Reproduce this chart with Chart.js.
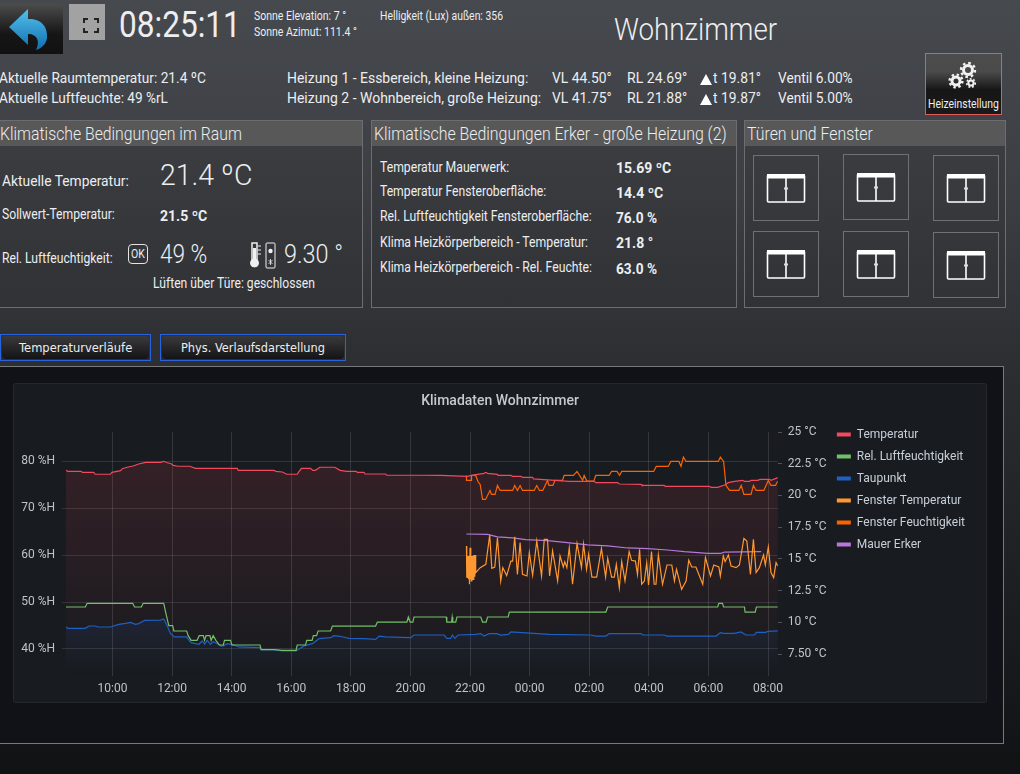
<!DOCTYPE html>
<html>
<head>
<meta charset="utf-8">
<title>Wohnzimmer</title>
<script src="https://cdn.jsdelivr.net/npm/chart.js@4"></script>
<style>
html, body { margin: 0; padding: 0; }
body { width: 1020px; height: 774px; overflow: hidden; position: relative; font-family: Roboto, sans-serif; color: #eceef0;
  background: linear-gradient(#46494e 0, #3c3e43 25%, #2c2e32 47%, #1e1f22 75%, #111214 100%); }
.box { position: absolute; box-sizing: border-box; }
.txt { position: absolute; white-space: nowrap; transform-origin: left center; line-height: 1; }
.panel { border: 1px solid #6b6d70; background: linear-gradient(#3c3e42, #303236); }
.head { position: absolute; left: 0; right: 0; top: 0; height: 25px; background: #585858; }
.btn { border: 1px solid #2a62dc; }
.btn div { position: absolute; inset: 1px; border-radius: 4px; background: linear-gradient(#3a3a3c, #141416); }
</style>
</head>
<body>
<div class="box" style="left:0;top:4px;width:63px;height:50px;background:linear-gradient(#4c4c4c,#161616 60%,#111)">
  <svg width="63" height="50"><defs><linearGradient id="a" x1="0" y1="0" x2="0" y2="1"><stop offset="0" stop-color="#55c0ee"/><stop offset="1" stop-color="#0f6fae"/></linearGradient></defs>
  <path d="M9 23 L28 5 L28 15 C42 14 48 24 47 34 C46 40 42 44 36 46 C40 38 38 30 28 30 L28 41 Z" fill="url(#a)"/></svg>
</div>
<div class="box" style="left:69px;top:4px;width:36px;height:36px;background:#a2a2a2">
  <svg width="36" height="36" fill="none" stroke="#222" stroke-width="2"><path d="M19 15h-4v4M25 15h4v4M19 28h-4v-4M25 28h4v-4"/></svg>
</div>
<div class="box" style="left:925px;top:53px;width:77px;height:62px;border:1px solid #e05a5a;background:linear-gradient(#4c4c4c,#4a4a4a 30%,#161616 60%,#1a1a1a)">
  <svg width="75" height="40" fill="none" stroke="#f2f2f2">
    <circle cx="42" cy="16" r="4.5" stroke-width="3"/><circle cx="42" cy="16" r="7" stroke-width="2.4" stroke-dasharray="2.6 2.9"/>
    <circle cx="30" cy="27" r="4" stroke-width="3"/><circle cx="30" cy="27" r="6.4" stroke-width="2.4" stroke-dasharray="2.4 2.6"/>
    <circle cx="45" cy="29" r="2.6" stroke-width="2"/><circle cx="45" cy="29" r="4.2" stroke-width="1.8" stroke-dasharray="1.8 1.8"/>
  </svg>
</div>
<svg class="box" style="left:699px;top:70px" width="15" height="36" fill="#fff"><path d="M1 15L7 4L13 15zM1 35L7 24L13 35z"/></svg>

<div class="box panel" style="left:-1px;top:120px;width:364px;height:188px"><div class="head"></div></div>
<div class="box panel" style="left:371px;top:120px;width:366px;height:188px"><div class="head"></div></div>
<div class="box panel" style="left:744px;top:120px;width:262px;height:188px"><div class="head"></div></div>

<div class="box" style="left:128px;top:244px;width:20px;height:20px;border:1px solid #e4e4e4;border-radius:4px"></div>
<svg class="box" style="left:250px;top:242px" width="26" height="27" fill="none" stroke="#f0f0f0">
  <path d="M2 1h5v17h-5z" stroke-width="1.5"/><circle cx="4.5" cy="21" r="4" fill="#f0f0f0"/><path d="M4.5 6v12" stroke-width="3"/><path d="M8 4h3M8 8h3M8 12h3" stroke-width="1"/>
  <rect x="16" y="1" width="9" height="25" rx="1" stroke-width="1"/><circle cx="20.5" cy="9" r="2.2" fill="#f0f0f0" stroke="none"/><path d="M18.5 18l4 4M22.5 18l-4 4M20.5 17v6" stroke-width=".8"/>
</svg>

<div class="box btn" style="left:0;top:334px;width:151px;height:27px"><div></div></div>
<div class="box btn" style="left:160px;top:334px;width:186px;height:27px"><div></div></div>

<div class="box" style="left:-1px;top:366px;width:1005px;height:378px;border:1px solid #77797b;background:#111217"></div>
<div class="box" style="left:13px;top:383px;width:974px;height:320px;border:1px solid #24272c;border-radius:3px;background:#181b1f"></div>
<canvas id="chart" width="972" height="318" style="position:absolute;left:14px;top:384px"></canvas>

<script>
// values; x is hours since midnight of the first day (24 = 00:00, 32 = 08:00)
const seriesNames = ['Temperatur', 'Rel. Luftfeuchtigkeit', 'Taupunkt', 'Fenster Temperatur', 'Fenster Feuchtigkeit', 'Mauer Erker'];
const seriesColors = ['#f2495c', '#73bf69', '#1f60c4', '#ff9830', '#fa6400', '#b877d9'];

const tempHours = [8.44,8.50,8.95,8.99,9.37,9.42,9.93,9.98,10.27,10.33,10.49,10.69,10.88,11.11,11.61,11.72,11.84,11.97,12.04,12.19,12.60,12.78,14.19,14.22,15.42,15.48,15.70,15.85,16.20,16.24,16.34,16.65,16.72,16.81,16.96,17.46,17.64,17.86,18.17,18.22,18.44,18.48,19.17,19.20,20.35,21.02,21.91,22.06,22.25,22.47,22.53,22.59,22.92,22.94,23.37,23.43,23.71,23.76,24.10,24.13,24.60,25.33,26.17,26.22,26.95,27.01,27.74,27.77,28.52,28.55,30.03,30.09,30.31,30.54,30.67,30.87,31.15,31.21,31.38,31.43,31.65,31.74,32.05,32.10,32.33];
const tempValues = [21.98,21.90,21.90,21.82,21.82,21.67,21.67,21.82,21.95,22.11,22.22,22.32,22.48,22.61,22.61,22.69,22.58,22.50,22.37,22.30,22.30,22.14,22.14,21.98,21.98,21.90,21.85,21.67,21.67,21.82,22.14,22.14,21.98,21.98,22.22,22.22,21.98,21.90,21.90,21.82,21.82,21.69,21.69,21.59,21.59,21.58,21.51,21.58,21.66,21.74,21.82,21.74,21.66,21.58,21.58,21.51,21.51,21.43,21.43,21.30,21.22,21.11,21.11,21.01,21.01,20.90,20.88,20.80,20.80,20.72,20.72,20.64,20.64,20.82,21.01,21.11,21.19,21.11,21.11,21.19,21.19,21.27,21.27,21.19,21.40];

const humHours = [8.44,9.09,9.15,10.68,10.74,10.97,11.03,11.72,11.80,11.89,12.02,12.06,12.49,12.54,12.64,12.84,12.91,13.05,13.09,13.14,13.27,13.31,13.38,13.47,13.59,13.72,13.76,13.96,14.01,14.95,14.99,15.42,15.70,16.16,16.20,16.48,16.52,16.70,16.74,16.85,16.90,17.32,17.38,18.83,18.89,19.88,19.93,19.99,20.08,20.12,20.35,21.20,21.22,21.38,21.40,21.42,21.52,21.56,22.36,22.42,22.54,22.59,23.28,23.32,26.56,26.62,30.31,30.35,30.47,30.51,31.21,31.23,31.57,31.61,32.33];
const humValues = [48.94,48.94,49.72,49.72,48.94,48.94,49.72,49.72,47.38,44.96,44.96,43.83,43.83,42.84,41.84,41.84,42.84,42.84,41.84,42.84,42.84,41.84,42.84,41.84,40.85,40.85,41.84,41.84,40.85,40.85,39.86,39.86,39.72,39.72,40.85,40.85,41.84,41.84,42.84,42.84,43.83,43.83,44.89,44.89,45.74,45.74,46.81,45.74,45.74,46.81,46.81,46.81,45.74,45.74,46.81,45.74,45.74,46.81,46.81,45.74,45.74,46.81,46.81,47.87,47.87,48.94,48.94,49.72,49.72,48.94,48.94,47.87,47.87,48.94,48.94];

const dewHours = [8.44,8.50,9.09,9.21,9.43,9.51,9.93,10.21,10.44,10.61,10.77,10.88,11.08,11.61,11.72,11.84,11.95,12.08,12.48,12.64,12.90,13.01,13.09,13.18,13.29,13.38,13.52,13.63,13.72,13.85,14.08,14.24,14.95,14.99,15.42,15.70,16.16,16.43,16.71,16.93,17.32,17.43,17.64,17.94,18.44,18.83,18.95,19.17,20.01,20.12,20.35,21.13,21.22,21.35,21.41,21.49,21.60,22.19,22.36,22.47,22.64,22.90,23.03,23.28,23.37,24.15,24.66,26.06,26.22,26.56,26.67,27.74,27.79,28.52,28.61,30.26,30.40,30.51,30.87,31.09,31.26,31.54,31.61,31.93,31.99,32.33];
const dewValues = [9.63,9.53,9.53,9.71,9.71,9.63,9.63,9.84,9.92,10.00,9.84,9.90,10.16,10.18,10.26,9.71,9.11,8.85,8.85,8.40,8.27,8.53,8.27,8.58,8.27,8.48,8.32,8.14,8.14,8.32,8.21,8.06,8.00,7.85,7.85,7.74,7.74,8.14,8.32,8.71,8.79,8.95,8.90,8.74,8.71,8.66,8.92,8.85,8.79,9.00,9.00,9.00,8.74,8.74,9.00,8.74,9.00,9.05,9.11,8.92,9.11,9.11,9.00,9.05,9.24,9.13,9.05,9.00,8.92,8.92,9.11,9.11,9.00,9.00,8.92,8.92,9.19,9.13,9.13,9.24,9.00,9.00,9.21,9.21,9.29,9.32];

const winTempHours = [21.88,21.89,21.90,21.92,21.94,21.95,21.97,21.98,22.00,22.02,22.03,22.04,22.06,22.07,22.09,22.10,22.12,22.13,22.14,22.16,22.17,22.19,22.34,22.53,22.66,22.73,22.83,22.92,23.03,23.10,23.23,23.37,23.43,23.50,23.59,23.68,23.76,23.91,23.99,24.10,24.24,24.40,24.49,24.60,24.67,24.77,24.94,25.02,25.13,25.18,25.25,25.33,25.44,25.59,25.74,25.81,25.91,25.98,26.09,26.25,26.41,26.55,26.62,26.75,26.84,26.91,27.01,27.09,27.20,27.34,27.42,27.55,27.62,27.69,27.76,27.85,27.93,27.99,28.09,28.18,28.24,28.32,28.46,28.61,28.77,28.86,28.93,29.10,29.25,29.34,29.44,29.58,29.81,29.90,30.07,30.18,30.35,30.40,30.50,30.56,30.67,30.76,30.93,31.04,31.19,31.29,31.41,31.51,31.60,31.71,31.85,31.91,32.01,32.10,32.19,32.27,32.33];
const winTempValues = [16.02,13.52,15.23,13.50,15.23,13.40,15.25,13.00,15.88,13.40,15.30,13.26,15.23,13.45,15.25,13.39,15.31,13.40,15.30,13.60,15.30,13.92,14.31,14.57,16.88,14.26,14.36,16.67,13.26,14.31,13.68,14.83,14.83,16.75,13.78,16.28,13.78,13.65,15.49,13.71,16.41,13.65,16.54,16.54,13.65,15.62,13.26,15.23,14.36,14.78,14.31,15.88,13.00,16.20,14.31,16.15,14.18,15.36,13.57,13.57,15.83,13.57,15.05,13.57,13.57,14.57,12.73,14.78,13.26,15.57,14.89,14.83,13.78,15.75,13.00,13.26,14.70,12.94,15.57,13.00,13.00,15.31,13.00,14.52,14.52,13.26,14.18,12.60,13.26,14.89,14.36,14.36,13.00,15.10,13.65,14.52,14.36,13.65,15.23,14.78,15.31,14.44,14.31,14.52,16.62,16.41,13.78,16.54,13.92,14.31,15.31,14.52,15.94,13.92,13.52,14.70,14.44];

const winHumHours = [21.88,21.88,22.05,22.05,22.19,22.27,22.34,22.42,22.52,22.67,22.72,22.84,22.92,23.01,23.43,23.50,23.59,23.68,23.76,24.15,24.24,24.33,24.44,24.60,24.65,24.78,24.85,25.10,25.16,25.47,25.59,25.78,25.83,25.92,26.15,26.22,26.67,26.75,26.93,27.02,27.09,28.16,28.25,28.65,28.74,29.01,29.08,29.16,29.25,30.33,30.40,30.51,30.59,30.71,31.02,31.10,31.19,31.43,31.51,31.60,31.86,32.01,32.10,32.25,32.33];
const winHumValues = [76.95,75.89,75.89,76.95,76.95,75.60,75.03,71.84,71.84,73.76,72.91,72.91,74.82,73.76,73.76,74.82,73.76,74.82,73.76,73.76,74.82,73.76,73.76,75.89,74.82,74.82,75.89,75.89,76.95,76.95,77.80,75.89,76.95,75.74,75.74,76.95,76.95,77.80,77.80,76.95,77.80,77.80,78.86,78.86,79.93,79.93,78.86,80.85,79.93,79.93,80.85,79.93,74.82,73.76,73.76,74.82,72.91,72.91,74.82,73.76,73.76,75.89,74.82,74.82,75.74];

const wallHours = [21.88,22.59,22.92,23.43,23.87,24.60,25.27,25.95,26.62,27.29,27.96,28.63,29.19,29.98,30.42,30.54,31.77];
const wallValues = [16.96,16.93,16.73,16.65,16.52,16.44,16.28,16.10,16.02,15.86,15.81,15.70,15.57,15.44,15.44,15.54,15.57];

const hourTicks = [10, 12, 14, 16, 18, 20, 22, 24, 26, 28, 30, 32];
const hourLabels = ['10:00', '12:00', '14:00', '16:00', '18:00', '20:00', '22:00', '00:00', '02:00', '04:00', '06:00', '08:00'];
const humTicks = [40, 50, 60, 70, 80];
const humLabels = ['40 %H', '50 %H', '60 %H', '70 %H', '80 %H'];
const tempTicks = [7.5, 10, 12.5, 15, 17.5, 20, 22.5, 25];
const tempLabels = ['7.50 °C', '10 °C', '12.5 °C', '15 °C', '17.5 °C', '20 °C', '22.5 °C', '25 °C'];

// text of the page around the chart: [x, y centre, text, size, width in px, weight]
const pageTexts = [
  [119, 25, '08:25:11', 36, 122, 400],
  [254, 16, 'Sonne Elevation: 7 °', 12, 92, 400],
  [254, 32, 'Sonne Azimut: 111.4 °', 12, 103, 400],
  [380, 16, 'Helligkeit (Lux) außen: 356', 12, 123, 400],
  [614, 29, 'Wohnzimmer', 32, 163, 300],
  [-1, 78, 'Aktuelle Raumtemperatur: 21.4 ºC', 15, 207, 400],
  [-1, 98, 'Aktuelle Luftfeuchte: 49 %rL', 15, 169, 400],
  [287, 78, 'Heizung 1 - Essbereich, kleine Heizung:', 15, 241, 400],
  [287, 98, 'Heizung 2 - Wohnbereich, große Heizung:', 15, 254, 400],
  [552, 78, 'VL 44.50°', 15, 60, 400],
  [552, 98, 'VL 41.75°', 15, 60, 400],
  [627, 78, 'RL 24.69°', 15, 60, 400],
  [627, 98, 'RL 21.88°', 15, 60, 400],
  [713, 78, 't 19.81°', 15, 48, 400],
  [713, 98, 't 19.87°', 15, 48, 400],
  [778, 78, 'Ventil 6.00%', 15, 75, 400],
  [778, 98, 'Ventil 5.00%', 15, 75, 400],
  [928, 104, 'Heizeinstellung', 12, 71, 400],
  [0, 134, 'Klimatische Bedingungen im Raum', 18, 242, 300],
  [374, 134, 'Klimatische Bedingungen Erker - große Heizung (2)', 18, 353, 300],
  [747, 134, 'Türen und Fenster', 18, 126, 300],
  [2, 181, 'Aktuelle Temperatur:', 15, 127, 400],
  [160, 175, '21.4 ºC', 30, 92, 300],
  [2, 214, 'Sollwert-Temperatur:', 14, 113, 400],
  [160, 216, '21.5 ºC', 14, 47, 700],
  [2, 258, 'Rel. Luftfeuchtigkeit:', 14, 111, 400],
  [131, 254, 'OK', 12, 14, 400],
  [160, 254, '49 %', 25, 47, 300],
  [284, 254, '9.30 °', 25, 59, 300],
  [153, 283, 'Lüften über Türe: geschlossen', 14, 162, 400],
  [380, 167, 'Temperatur Mauerwerk:', 14, 129, 400],
  [380, 191, 'Temperatur Fensteroberfläche:', 14, 166, 400],
  [380, 216, 'Rel. Luftfeuchtigkeit Fensteroberfläche:', 14, 212, 400],
  [380, 242, 'Klima Heizkörperbereich - Temperatur:', 14, 208, 400],
  [380, 267, 'Klima Heizkörperbereich - Rel. Feuchte:', 14, 212, 400],
  [616, 168, '15.69 ºC', 14, 55, 700],
  [616, 193, '14.4 ºC', 14, 47, 700],
  [616, 218, '76.0 %', 14, 41, 700],
  [616, 243, '21.8 °', 14, 37, 700],
  [616, 269, '63.0 %', 14, 41, 700]
];
const buttonTexts = [[19, 348, 'Temperaturverläufe', 113], [181, 348, 'Phys. Verlaufsdarstellung', 144]];
const windowBoxes = [[753, 155], [843, 154], [933, 155], [753, 231], [843, 231], [933, 232]];

function addText(x, y, text, size, width, weight, family) {
    const el = document.createElement('span');
    el.className = 'txt';
    el.textContent = text;
    el.style.cssText = `left:${x}px;top:${y - size / 2}px;font-size:${size}px;font-weight:${weight};` + (family ? `font-family:${family};` : '');
    document.body.appendChild(el);
    el.style.transform = `scaleX(${width / el.offsetWidth})`;
}
pageTexts.forEach(t => addText(...t));
buttonTexts.forEach(t => addText(t[0], t[1], t[2], 12, t[3], 400, '"DejaVu Sans"'));

// the window icons of "Türen und Fenster"
windowBoxes.forEach(([x, y]) => {
    const el = document.createElement('div');
    el.className = 'box';
    el.style.cssText = `left:${x}px;top:${y}px;width:66px;height:66px;border:1px solid #6e7073`;
    el.innerHTML = '<svg width="64" height="64" fill="none" stroke="#fff" style="position:absolute;left:0;top:0">' +
        '<rect x="13.5" y="19" width="37" height="27" rx="1" stroke-width="1.6"/><rect x="13" y="18" width="38" height="4.5" fill="#fff" stroke="none"/>' +
        '<path d="M32 22v24" stroke-width="1.6"/><path d="M30 32.5h4" stroke-width="2" stroke="#ddd"/></svg>';
    document.body.appendChild(el);
});

function toPoints(hours, values) {
    return hours.map((h, i) => ({x: h, y: values[i]}));
}

function fadeFill(rgb, top) {
    return ctx => {
        const area = ctx.chart.chartArea;
        if (!area) return 'transparent';
        const g = ctx.chart.ctx.createLinearGradient(0, area.top, 0, area.bottom);
        g.addColorStop(0, `rgba(${rgb},${top})`);
        g.addColorStop(1, `rgba(${rgb},0)`);
        return g;
    };
}

function line(i, points, axis, fill) {
    return {
        label: seriesNames[i],
        data: points,
        yAxisID: axis,
        borderColor: seriesColors[i],
        backgroundColor: fill || 'transparent',
        fill: fill ? 'start' : false,
        borderWidth: 1.2,
        pointRadius: 0,
        tension: 0
    };
}

const tickColor = '#c0c4ca';
const tickFont = {family: 'Roboto', size: 12};

const chart = new Chart(document.querySelector('#chart').getContext('2d'), {
    type: 'line',
    data: {
        datasets: [
            line(0, toPoints(tempHours, tempValues), 'temp', fadeFill('242,73,92', 0.15)),
            line(1, toPoints(humHours, humValues), 'hum'),
            line(2, toPoints(dewHours, dewValues), 'temp', fadeFill('31,96,196', 0.5)),
            line(3, toPoints(winTempHours, winTempValues), 'temp'),
            line(4, toPoints(winHumHours, winHumValues), 'hum'),
            line(5, toPoints(wallHours, wallValues), 'temp')
        ]
    },
    options: {
        responsive: false,
        animation: false,
        layout: {padding: {left: 6, right: 6}},
        scales: {
            x: {
                type: 'linear',
                min: 8.44,
                max: 32.33,
                afterFit: s => { s.height = 26; },
                afterBuildTicks: s => { s.ticks = hourTicks.map(v => ({value: v})); },
                border: {display: false},
                grid: {color: 'rgba(255,255,255,0.12)', tickLength: 0},
                ticks: {color: tickColor, font: tickFont, padding: 6, maxRotation: 0, callback: v => hourLabels[hourTicks.indexOf(v)]}
            },
            hum: {
                position: 'left',
                min: 34.25,
                max: 86.2,
                afterFit: s => { s.width = 46; },
                afterBuildTicks: s => { s.ticks = humTicks.map(v => ({value: v})); },
                border: {display: false},
                grid: {color: 'rgba(255,255,255,0.11)', tickLength: 4},
                ticks: {color: tickColor, font: tickFont, padding: 7, callback: v => humLabels[humTicks.indexOf(v)]}
            },
            temp: {
                position: 'right',
                min: 5.77,
                max: 25,
                afterFit: s => { s.width = 54; },
                afterBuildTicks: s => { s.ticks = tempTicks.map(v => ({value: v})); },
                border: {display: false},
                grid: {drawOnChartArea: false, color: 'rgba(255,255,255,0.25)', tickLength: 4},
                ticks: {color: tickColor, font: tickFont, padding: 6, callback: v => tempLabels[tempTicks.indexOf(v)]}
            }
        },
        plugins: {
            filler: {drawTime: 'beforeDatasetsDraw'},
            tooltip: {enabled: false},
            title: {
                display: true,
                text: 'Klimadaten Wohnzimmer',
                color: '#c7c9d1',
                font: {family: 'Roboto', size: 14, weight: '500'},
                padding: {top: 9, bottom: 22.2}
            },
            legend: {
                position: 'right',
                align: 'start',
                labels: {
                    color: '#c7d0d9',
                    font: {family: 'Roboto', size: 12},
                    boxWidth: 14,
                    boxHeight: 4,
                    padding: 10,
                    generateLabels: c => c.data.datasets.map((d, i) => ({text: d.label, fillStyle: d.borderColor, strokeStyle: d.borderColor, fontColor: '#c7d0d9', lineWidth: 0, datasetIndex: i}))
                }
            }
        }
    },
    plugins: [{
        id: 'legendPlace',
        // the legend sits a little differently from where the layout puts it
        afterLayout: c => { c.legend.top += 34.5; c.legend.left -= 5; }
    }]
});
</script>
</body>
</html>
